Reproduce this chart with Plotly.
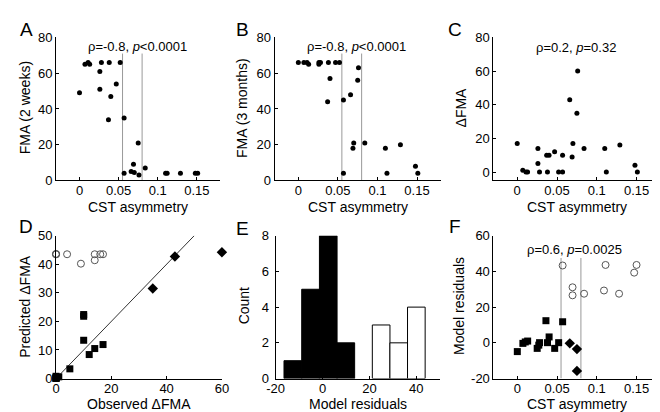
import plotly.graph_objects as go

# ---------------- data ----------------
cst_asym = [0.000, 0.007, 0.011, 0.013, 0.026, 0.026, 0.028, 0.037, 0.038, 0.040,
            0.047, 0.052, 0.057, 0.057, 0.066, 0.069, 0.070, 0.075, 0.076, 0.084,
            0.110, 0.112, 0.129, 0.148, 0.151]
fma_2wk = [49, 65, 66, 65, 61, 51, 66, 34, 66, 47,
           54, 66, 35, 4, 5, 9, 4.5, 21, 3, 7,
           4, 4, 4, 4, 4]
fma_3mo = [66, 66, 66, 65, 66, 65, 66, 44, 66, 57,
           66, 66, 45, 4, 48, 18, 21, 56, 63, 21,
           18, 4, 20, 8, 4]
delta_fma = [17, 1, 0, 0, 5, 14, 0, 10, 0, 10,
             12, 0, 10, 0, 43, 9, 17, 35, 60, 14,
             14, 0, 16, 4, 0]

thresholds = [0.055, 0.08]

# D: observed vs predicted change, by group
obs_sq = [17, 1, 0, 0, 5, 14, 0, 10, 0, 10, 12, 0, 10]
pred_sq = [11.9, 0.6, 0.4, 0.8, 3.4, 10.5, 0.1, 22.4, 0.1, 13.4, 8.4, 0.1, 21.8]
obs_dm = [43, 35, 60]
pred_dm = [42.7, 31.5, 44.2]
obs_ci = [0, 9, 17, 14, 14, 0, 16, 4, 0]
pred_ci = [43.5, 40.2, 43.5, 41.4, 43.5, 43.6, 43.5, 43.5, 43.5]

# E: histogram of model residuals
res_bins_fit = [-12.65, -5.1, 2.45, 9.95]
res_counts_fit = [1, 5, 8, 2]
res_bins_out = [25.0, 32.5, 40.0]
res_counts_out = [3, 2, 4]
bin_width = 7.52

# F: residuals vs CST asymmetry
cst_sq = [0.000, 0.007, 0.010, 0.013, 0.025, 0.027, 0.028, 0.036, 0.038, 0.040, 0.047, 0.052, 0.057]
res_sq = [-4.9, -0.3, 0.5, 1.0, -3.1, -1.3, 0.1, 12.4, 0.1, 3.3, -3.1, 0.1, 11.8]
cst_dm = [0.066, 0.075, 0.075]
res_dm = [-0.3, -3.5, -15.7]
cst_ci = [0.057, 0.0695, 0.0695, 0.084, 0.109, 0.111, 0.128, 0.147, 0.150]
res_ci = [43.3, 31.1, 26.6, 27.5, 29.3, 43.6, 27.5, 39.3, 43.6]

W, H = 660, 412
FONT = "Liberation Sans, Arial, sans-serif"

def fx(p):
    return p / W

def fy(p):
    return 1 - p / H

fig = go.Figure()

dot = dict(color="black", size=5)
sq = dict(color="black", size=7, symbol="square")
dm = dict(color="black", size=8, symbol="diamond")
ci = dict(symbol="circle-open", size=7, color="#555", line=dict(width=1))

# A
fig.add_trace(go.Scatter(x=cst_asym, y=fma_2wk, mode="markers", marker=dot, xaxis="x", yaxis="y", cliponaxis=False))
# B
fig.add_trace(go.Scatter(x=cst_asym, y=fma_3mo, mode="markers", marker=dot, xaxis="x2", yaxis="y2", cliponaxis=False))
# C
fig.add_trace(go.Scatter(x=cst_asym, y=delta_fma, mode="markers", marker=dot, xaxis="x3", yaxis="y3", cliponaxis=False))
# D
fig.add_trace(go.Scatter(x=[0, 50], y=[0, 50], mode="lines", line=dict(color="#333", width=1), xaxis="x4", yaxis="y4"))
fig.add_trace(go.Scatter(x=obs_ci, y=pred_ci, mode="markers", marker=ci, xaxis="x4", yaxis="y4", cliponaxis=False))
fig.add_trace(go.Scatter(x=obs_sq, y=pred_sq, mode="markers", marker=sq, xaxis="x4", yaxis="y4", cliponaxis=False))
fig.add_trace(go.Scatter(x=obs_dm, y=pred_dm, mode="markers", marker=dm, xaxis="x4", yaxis="y4", cliponaxis=False))
# E
fig.add_trace(go.Bar(x=res_bins_fit, y=res_counts_fit, width=bin_width, marker=dict(color="black", line=dict(color="black", width=1)), xaxis="x5", yaxis="y5"))
fig.add_trace(go.Bar(x=res_bins_out, y=res_counts_out, width=bin_width, marker=dict(color="white", line=dict(color="black", width=1)), xaxis="x5", yaxis="y5"))
# F
fig.add_trace(go.Scatter(x=cst_ci, y=res_ci, mode="markers", marker=ci, xaxis="x6", yaxis="y6", cliponaxis=False))
fig.add_trace(go.Scatter(x=cst_sq, y=res_sq, mode="markers", marker=sq, xaxis="x6", yaxis="y6", cliponaxis=False))
fig.add_trace(go.Scatter(x=cst_dm, y=res_dm, mode="markers", marker=dm, xaxis="x6", yaxis="y6", cliponaxis=False))

# threshold lines
shapes = []
for xr, yr, bottom, top in [("x", "y", 0, 71), ("x2", "y2", 0, 71), ("x6", "y6", -20, 47.5)]:
    for t in thresholds:
        shapes.append(dict(type="line", xref=xr, yref=yr, x0=t, x1=t, y0=bottom, y1=top,
                           line=dict(color="#999", width=1), layer="below"))

tick_font = dict(family=FONT, size=13, color="black")
title_font = dict(family=FONT, size=14, color="black")

def ax(domain, rng, tickvals, ticktext, anchor, is_x, lab_off=None):
    d = dict(domain=domain, range=rng, tickvals=tickvals, ticktext=ticktext,
             showline=True, linecolor="black", linewidth=1, mirror=False,
             ticks="inside", ticklen=3, tickcolor="black", showgrid=False, zeroline=False,
             tickfont=tick_font, anchor=anchor, fixedrange=True)
    if is_x:
        d["ticklabelstandoff"] = -2
    if lab_off is not None:
        d["ticklabelstandoff"] = lab_off
    return d

row1 = [fy(171.7), fy(23.3)]
row2 = [fy(377.3), fy(229)]
cst_ticks = [0, 0.05, 0.1, 0.15]
cst_text = ["0", "0.05", "0.1", "0.15"]

dom = {
    "A": (40, 208.4), "B": (264, 434.3), "C": (488.2, 659.4),
    "D": (40, 210), "E": (265, 433.3), "F": (488.3, 659.4),
}

layout = dict(
    width=W, height=H, margin=dict(l=0, r=0, t=0, b=0),
    paper_bgcolor="white", plot_bgcolor="white", showlegend=False,
    font=dict(family=FONT, color="black"), barmode="overlay",
    xaxis=ax([fx(dom["A"][0]), fx(dom["A"][1])], [-0.03, 0.18], cst_ticks, cst_text, "y", True),
    yaxis=ax(row1, [0, 80], [0, 20, 40, 60, 80], ["0", "20", "40", "60", "80"], "x", False),
    xaxis2=ax([fx(dom["B"][0]), fx(dom["B"][1])], [-0.03, 0.18], cst_ticks, cst_text, "y2", True),
    yaxis2=ax(row1, [0, 80], [0, 20, 40, 60, 80], ["0", "20", "40", "60", "80"], "x2", False),
    xaxis3=ax([fx(dom["C"][0]), fx(dom["C"][1])], [-0.03, 0.18], cst_ticks, cst_text, "y3", True),
    yaxis3=ax(row1, [-5, 80], [0, 20, 40, 60, 80], ["0", "20", "40", "60", "80"], "x3", False),
    xaxis4=ax([fx(dom["D"][0]), fx(dom["D"][1])], [0, 60], [0, 20, 40, 60], ["0", "20", "40", "60"], "y4", True),
    yaxis4=ax(row2, [0, 50], [0, 10, 20, 30, 40, 50], ["0", "10", "20", "30", "40", "50"], "x4", False),
    xaxis5=ax([fx(dom["E"][0]), fx(dom["E"][1])], [-20, 50], [-20, 0, 20, 40], ["-20", "0", "20", "40"], "y5", True),
    yaxis5=ax(row2, [0, 8], [0, 2, 4, 6, 8], ["0", "2", "4", "6", "8"], "x5", False, lab_off=3),
    xaxis6=ax([fx(dom["F"][0]), fx(dom["F"][1])], [-0.03, 0.18], cst_ticks, cst_text, "y6", True),
    yaxis6=ax(row2, [-20, 60], [-20, 0, 20, 40, 60], ["-20", "0", "20", "40", "60"], "x6", False),
    shapes=shapes,
)
fig.update_layout(**layout)

# axis titles (placed as annotations for exact positioning)
x_titles = [("A", "CST asymmetry", 199), ("B", "CST asymmetry", 199), ("C", "CST asymmetry", 199),
            ("D", "Observed ΔFMA", 404), ("E", "Model residuals", 404), ("F", "CST asymmetry", 404)]
for k, t, py in x_titles:
    cx = (dom[k][0] + dom[k][1]) / 2
    fig.add_annotation(xref="paper", yref="paper", x=fx(cx), y=fy(py), text=t, showarrow=False,
                       font=title_font, xanchor="center", yanchor="middle")

y_titles = [("FMA (2 weeks)", 8, 96), ("FMA (3 months)", 230, 96), ("ΔFMA", 455, 96),
            ("Predicted ΔFMA", 8, 302), ("Count", 233, 302), ("Model residuals", 453, 302)]
for t, px, py in y_titles:
    fig.add_annotation(xref="paper", yref="paper", x=fx(px), y=fy(py), text=t, showarrow=False,
                       font=title_font, textangle=-90, xanchor="center", yanchor="middle")

ann_font = dict(family=FONT, size=13, color="black")
stats = [
    ("x", "y", 0.0736, 74.8, "ρ=-0.8, <i>p</i>&lt;0.0001"),
    ("x2", "y2", 0.074, 74.8, "ρ=-0.8, <i>p</i>&lt;0.0001"),
    ("x3", "y3", 0.0744, 74.3, "ρ=0.2, <i>p</i>=0.32"),
    ("x6", "y6", 0.0724, 52.3, "ρ=0.6, <i>p</i>=0.0025"),
]
for xr, yr, x, y, t in stats:
    fig.add_annotation(xref=xr, yref=yr, x=x, y=y, text=t, showarrow=False, font=ann_font,
                       xanchor="center", yanchor="middle")

letters = [("A", 1, 2), ("B", 222, 2), ("C", 440, 2), ("D", 0, 207), ("E", 222, 209), ("F", 441, 207)]
for t, px, py in letters:
    fig.add_annotation(xref="paper", yref="paper", x=fx(px), y=fy(py), text=t, showarrow=False,
                       font=dict(family=FONT, size=19, color="black"), xanchor="left", yanchor="top")

fig.write_html("out.html")
